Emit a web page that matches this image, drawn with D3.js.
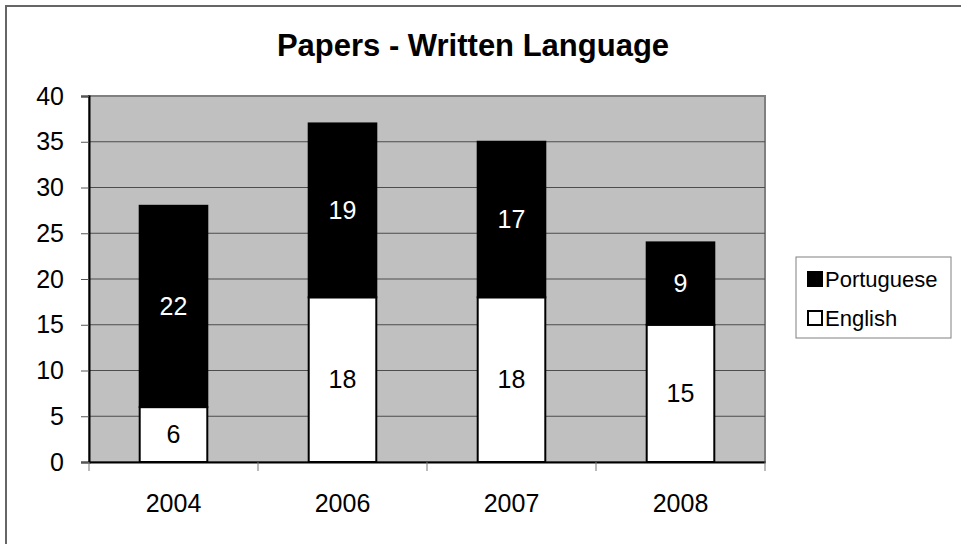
<!DOCTYPE html>
<html>
<head>
<meta charset="utf-8">
<script src="https://d3js.org/d3.v7.min.js"></script>
<style>
  body { margin: 0; background: #fff; }
  svg { font-family: "Liberation Sans", Arial, sans-serif; }
</style>
</head>
<body>
<svg width="961" height="544"></svg>
<script>
const years = ["2004", "2006", "2007", "2008"];
const english = [6, 18, 18, 15];
const portuguese = [22, 19, 17, 9];
const seriesNames = ["Portuguese", "English"];
const yTicks = [0, 5, 10, 15, 20, 25, 30, 35, 40];

const svg = d3.select("svg");
const plot = {left: 89, top: 96, right: 765, bottom: 462};
const fontFam = "Liberation Sans, Arial, sans-serif";

// outer chart border (only left/top visible in the picture)
svg.append("rect")
    .attr("x", 6).attr("y", 6)
    .attr("width", 1000).attr("height", 1000)
    .attr("fill", "none")
    .attr("stroke", "#666")
    .attr("stroke-width", 2);

const x = d3.scaleBand()
    .domain(years)
    .range([plot.left, plot.right])
    .paddingInner(0.6)
    .paddingOuter(0.3);

const xb = d3.scaleBand().domain(years).range([plot.left, plot.right]);

const y = d3.scaleLinear()
    .domain([0, 40])
    .range([plot.bottom, plot.top]);

// plot background
svg.append("rect")
    .attr("x", plot.left).attr("y", plot.top)
    .attr("width", plot.right - plot.left)
    .attr("height", plot.bottom - plot.top)
    .attr("fill", "#c0c0c0")
    .attr("stroke", "#808080")
    .attr("stroke-width", 2);

// gridlines
svg.append("g")
    .selectAll("line")
    .data(yTicks.filter(d => d > 0 && d < 40))
    .join("line")
    .attr("x1", plot.left).attr("x2", plot.right)
    .attr("y1", d => y(d)).attr("y2", d => y(d))
    .attr("stroke", "#4d4d4d")
    .attr("stroke-width", 1.2);

// stacked bars
const rows = years.map((yr, i) => ({year: yr, English: english[i], Portuguese: portuguese[i]}));
const stack = d3.stack().keys(["English", "Portuguese"])(rows);
const fills = {English: "#ffffff", Portuguese: "#000000"};
const labelColor = {English: "#000", Portuguese: "#fff"};

stack.forEach(layer => {
    const g = svg.append("g");
    g.selectAll("rect")
        .data(layer)
        .join("rect")
        .attr("x", d => x(d.data.year))
        .attr("y", d => y(d[1]))
        .attr("width", x.bandwidth())
        .attr("height", d => y(d[0]) - y(d[1]))
        .attr("fill", fills[layer.key])
        .attr("stroke", "#000")
        .attr("stroke-width", 2);
    g.selectAll("text")
        .data(layer)
        .join("text")
        .attr("x", d => x(d.data.year) + x.bandwidth() / 2)
        .attr("y", d => y((d[0] + d[1]) / 2))
        .attr("dy", "0.35em")
        .attr("text-anchor", "middle")
        .attr("font-size", 25)
        .attr("fill", labelColor[layer.key])
        .text(d => d[1] - d[0]);
});

// y axis
const yAxis = svg.append("g")
    .attr("transform", `translate(${plot.left},0)`)
    .call(d3.axisLeft(y).tickValues(yTicks).tickSize(8).tickPadding(17));
yAxis.select(".domain").attr("stroke", "#000").attr("stroke-width", 2);
yAxis.selectAll(".tick line").attr("stroke", "#555");
yAxis.selectAll("text").attr("font-size", 25).attr("fill", "#000")
    .attr("font-family", fontFam);

// x axis
const xAxis = svg.append("g")
    .attr("transform", `translate(0,${plot.bottom})`)
    .call(d3.axisBottom(xb).tickSize(0).tickPadding(32));
xAxis.select(".domain").attr("stroke", "#000").attr("stroke-width", 2);
xAxis.selectAll("text").attr("font-size", 25).attr("fill", "#000")
    .attr("font-family", fontFam);
// category boundary ticks
xAxis.selectAll(".bound")
    .data(years.concat(["end"]))
    .join("line")
    .attr("class", "bound")
    .attr("x1", (d, i) => i < years.length ? xb(d) : plot.right)
    .attr("x2", (d, i) => i < years.length ? xb(d) : plot.right)
    .attr("y1", 0).attr("y2", 9)
    .attr("stroke", "#777");

// title
svg.append("text")
    .attr("x", 473).attr("y", 56)
    .attr("text-anchor", "middle")
    .attr("font-size", 31)
    .attr("font-weight", "bold")
    .text("Papers - Written Language");

// legend
const legend = svg.append("g").attr("transform", "translate(796,257)");
legend.append("rect")
    .attr("width", 155).attr("height", 81)
    .attr("fill", "#fff")
    .attr("stroke", "#808080");
const item = legend.selectAll(".item")
    .data(seriesNames)
    .join("g")
    .attr("class", "item")
    .attr("transform", (d, i) => `translate(11,${22 + i * 39})`);
item.append("rect")
    .attr("x", 1).attr("y", -7)
    .attr("width", 14).attr("height", 14)
    .attr("fill", d => d === "Portuguese" ? "#000" : "#fff")
    .attr("stroke", "#000")
    .attr("stroke-width", 2);
item.append("text")
    .attr("x", 18)
    .attr("dy", "0.35em")
    .attr("font-size", 22)
    .text(d => d);
</script>
</body>
</html>
